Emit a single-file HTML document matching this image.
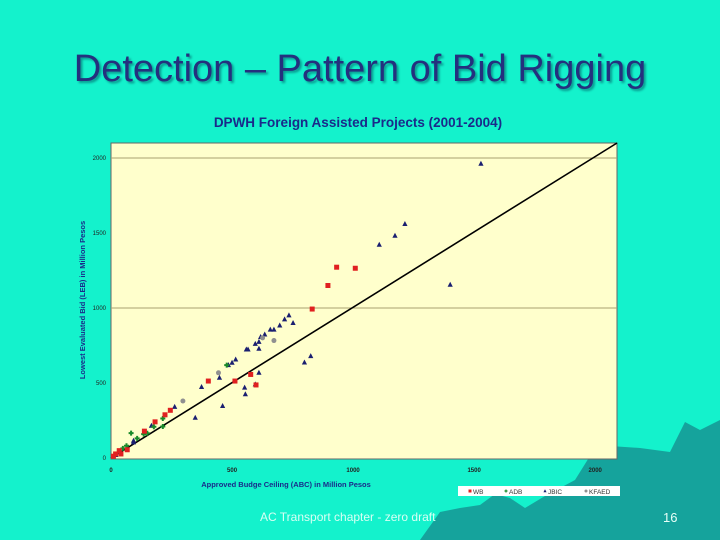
<!DOCTYPE html>
<html><head><meta charset="utf-8"><style>
body{margin:0;width:720px;height:540px;overflow:hidden;background:#14f2cc;font-family:"Liberation Sans",sans-serif;position:relative}
.t{position:absolute;left:0;width:720px;top:48px;text-align:center;font-size:38px;color:#24307e;text-shadow:2px 2px 2px #0a9a90;white-space:nowrap}
</style></head><body>
<div class="t">Detection – Pattern of Bid Rigging</div>
<svg id="c" width="720" height="540" style="position:absolute;left:0;top:0">
<polygon fill="#15a39c" points="420,540 440,512 460,508 480,505 495,494 510,498 525,508 545,496 575,480 590,456 610,446 640,448 670,452 685,422 700,430 712,424 720,420 720,540"/>
<text x="358" y="127" text-anchor="middle" font-size="13.5" font-weight="bold" fill="#1a2a8a">DPWH Foreign Assisted Projects (2001-2004)</text>
<g id="plot"></g>
<text x="260" y="521" font-size="12" fill="#d8fff4">AC Transport chapter - zero draft</text>
<text x="663" y="522" font-size="13" fill="#e8fff8">16</text>
</svg>
<script>
const xTicks=[0,500,1000,1500,2000];
const yTicks=[0,500,1000,1500,2000];
const wbX=[896,932,1009,831,402,512,577,599,245,223,182,138,67,34,19,41,10];
const wbY=[1150,1272,1265,993,513,513,557,487,318,288,241,179,55,49,27,27,12];
const adbX=[83,108,135,214,214,177,49,64,478,150];
const adbY=[166,131,159,263,210,208,64,82,619,165];
const jbicX=[1528,1214,1173,1108,1401,735,717,752,697,673,658,635,618,611,596,611,566,559,515,500,485,448,374,552,555,611,596,461,348,799,825,263,167,93,93,34,20];
const jbicY=[1962,1560,1482,1422,1155,951,924,900,883,856,856,823,807,774,761,728,723,723,657,635,619,535,473,469,425,568,491,347,268,637,679,341,215,115,104,38,20];
const kfX=[673,626,444,297];
const kfY=[783,801,568,380];
const L=111,R=617,T=143,B=459,xMax=2090,yMax=2100,y0=458;
const sx=v=>L+v*(R-L)/xMax;
const sy=v=>y0-v*(y0-T)/yMax;
const ns="http://www.w3.org/2000/svg",g=document.getElementById('plot');
function mk(t,a){const e=document.createElementNS(ns,t);for(const k in a)e.setAttribute(k,a[k]);g.appendChild(e);return e;}
let e=mk('rect',{x:L,y:T,width:R-L,height:B-T,fill:'#ffffcc',stroke:'#666','stroke-width':1});


[1000,2000].forEach(v=>{const l=mk('line',{x1:L,x2:R,y1:sy(v),y2:sy(v),stroke:'#a8a070','stroke-width':1});

});
xTicks.forEach(v=>{const t=mk('text',{x:sx(v),y:472,'text-anchor':'middle','font-size':6,'font-weight':'bold',fill:'#222'});t.textContent=v;

});
yTicks.forEach(v=>{const t=mk('text',{x:106,y:sy(v)+2,'text-anchor':'end','font-size':6,fill:'#222'});t.textContent=v;

});
let xt=mk('text',{x:286,y:487,'text-anchor':'middle','font-size':7.5,'font-weight':'bold',fill:'#1a2a8a'});xt.textContent='Approved Budge Ceiling (ABC) in Million Pesos';


let yt=mk('text',{x:0,y:0,'text-anchor':'middle','font-size':7.5,'font-weight':'bold',fill:'#1a2a8a',transform:'translate(85,300) rotate(-90)'});yt.textContent='Lowest Evaluated Bid (LEB) in Million Pesos';


let ln=mk('line',{x1:sx(0),y1:sy(0),x2:sx(xMax),y2:sy(yMax),stroke:'#000','stroke-width':1.6});


function sq(x,y){const m=mk('rect',{x:x-2.5,y:y-2.5,width:5,height:5,fill:'#e02020'});return m;}
function tri(x,y){return mk('polygon',{points:`${x},${y-3} ${x-2.6},${y+2} ${x+2.6},${y+2}`,fill:'#1a1f70'});}
function cross(x,y){return mk('path',{d:`M${x-2.5},${y}h5M${x},${y-2.5}v5`,stroke:'#1a8a2a','stroke-width':2});}
function dot(x,y){return mk('circle',{cx:x,cy:y,r:2.5,fill:'#909090'});}
jbicX.forEach((v,i)=>{const m=tri(sx(v),sy(jbicY[i]));

});
kfX.forEach((v,i)=>{const m=dot(sx(v),sy(kfY[i]));

});
adbX.forEach((v,i)=>{const m=cross(sx(v),sy(adbY[i]));

});
wbX.forEach((v,i)=>{const m=sq(sx(v),sy(wbY[i]));

});
let lg=mk('rect',{x:458,y:486,width:162,height:10,fill:'#fff'});


const legNames=['WB','ADB','JBIC','KFAED'],legX=[470,506,545,586],legF=[sq,cross,tri,dot];
legNames.forEach((n,i)=>{const m=legF[i](legX[i],491);m.setAttribute('transform',`translate(${legX[i]},491) scale(0.6) translate(${-legX[i]},-491)`);


const t=mk('text',{x:legX[i]+3,y:494,'font-size':6.5,fill:'#333'});t.textContent=n;

});
</script>
</body></html>
